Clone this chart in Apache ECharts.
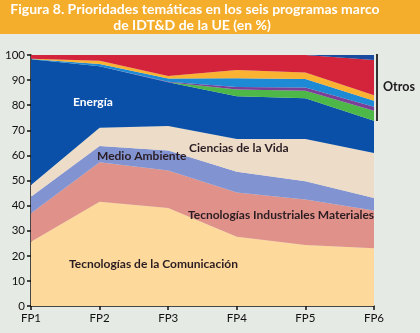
<!DOCTYPE html>
<html>
<head>
<meta charset="utf-8">
<script src="https://cdn.jsdelivr.net/npm/echarts@6/dist/echarts.min.js"></script>
<style>html,body{margin:0;padding:0;background:#e6eae5;}#c{width:420px;height:333px;}</style>
</head>
<body>
<div id="c"></div>
<script>
const categories = ['FP1','FP2','FP3','FP4','FP5','FP6'];
const comunicacion = [25.6, 41.5, 39, 27.6, 24.3, 23];
const industriales = [11.4, 15.8, 15, 17.6, 18.1, 15];
const medioAmbiente = [6.5, 6.4, 8, 8.3, 7.3, 5];
const cienciasVida = [4.7, 7.3, 9.7, 13, 16.8, 18];
const energia = [50.1, 24.5, 17.4, 17.1, 16.3, 12.8];
const otrosVerde = [0, 0, 0, 2.7, 3.0, 4.0];
const otrosMorado = [0, 0, 0.2, 1.0, 1.3, 1.6];
const otrosCeleste = [0.1, 0.9, 1.3, 3.4, 3.3, 2.4];
const otrosNaranja = [0.1, 1.3, 1.0, 3.3, 2.6, 2.2];
const otrosRojo = [1.5, 2.3, 8.4, 6, 7, 14];
const otrosAzul = [0, 0, 0, 0, 0, 2];
const yTicks = [0,10,20,30,40,50,60,70,80,90,100];

const layers = [
  [comunicacion, '#fdd99b'],
  [industriales, '#e0928a'],
  [medioAmbiente, '#8293d2'],
  [cienciasVida, '#ecdcc8'],
  [energia, '#0a50a8'],
  [otrosVerde, '#4db848'],
  [otrosMorado, '#7c3f98'],
  [otrosCeleste, '#1e8ad6'],
  [otrosNaranja, '#f9b232'],
  [otrosRojo, '#d4243c'],
  [otrosAzul, '#1a4b9f']
];

const chart = echarts.init(document.getElementById('c'));
const font = 'Lato, "Open Sans", sans-serif';
const dark = '#2a1c22';
chart.setOption({
  backgroundColor: '#e6eae5',
  animation: false,
  grid: {left: 31, right: 46, top: 55, bottom: 27},
  xAxis: {
    type: 'category', data: categories, boundaryGap: false,
    axisLine: {lineStyle: {color: '#111', width: 1.5}},
    axisTick: {show: true, alignWithLabel: true, length: 4, lineStyle: {color: '#111', width: 1.5}},
    axisLabel: {color: '#111', fontFamily: font, fontSize: 11.5, margin: 6}
  },
  yAxis: {
    type: 'value', min: 0, max: 100, interval: 10,
    axisLine: {show: true, lineStyle: {color: '#111', width: 1.5}},
    axisTick: {show: true, length: 4, lineStyle: {color: '#111', width: 1.5}},
    axisLabel: {color: '#111', fontFamily: font, fontSize: 11.5, margin: 6,
      formatter: v => yTicks.includes(v) ? String(v) : ''},
    splitLine: {show: false}
  },
  series: layers.map(([d, c]) => ({
    type: 'line', stack: 'total', data: d, symbol: 'none', showSymbol: false,
    lineStyle: {width: 0}, areaStyle: {color: c, opacity: 1}, itemStyle: {color: c},
    z: 2
  })),
  graphic: [
    {type: 'rect', shape: {x: 0, y: 0, width: 420, height: 34}, style: {fill: '#f5ad2c'}, z: 10},
    {type: 'text', x: 195, y: 9, z: 11, style: {text: 'Figura 8. Prioridades temáticas en los seis programas marco', fill: '#fff', font: 'bold 14px ' + font, textAlign: 'center', textVerticalAlign: 'middle'}},
    {type: 'text', x: 192, y: 25, z: 11, style: {text: 'de IDT&D de la UE (en %)', fill: '#fff', font: 'bold 14px ' + font, textAlign: 'center', textVerticalAlign: 'middle'}},
    {type: 'text', x: 73, y: 102, z: 11, style: {text: 'Energía', fill: '#fff', font: 'bold 12px ' + font, textVerticalAlign: 'middle'}},
    {type: 'text', x: 97, y: 156, z: 11, style: {text: 'Medio Ambiente', fill: dark, font: 'bold 12px ' + font, textVerticalAlign: 'middle'}},
    {type: 'text', x: 189, y: 148, z: 11, style: {text: 'Ciencias de la Vida', fill: dark, font: 'bold 12px ' + font, textVerticalAlign: 'middle'}},
    {type: 'text', x: 188, y: 215, z: 11, style: {text: 'Tecnologías Industriales Materiales', fill: dark, font: 'bold 12px ' + font, textVerticalAlign: 'middle'}},
    {type: 'text', x: 69, y: 264, z: 11, style: {text: 'Tecnologías de la Comunicación', fill: dark, font: 'bold 12px ' + font, textVerticalAlign: 'middle'}},
    {type: 'line', shape: {x1: 377, y1: 54, x2: 377, y2: 121}, style: {stroke: '#333', lineWidth: 2}, z: 11},
    {type: 'text', x: 383, y: 87, z: 11, style: {text: 'Otros', fill: '#1a1a1a', font: 'bold 12.5px ' + font, textVerticalAlign: 'middle'}}
  ]
});
</script>
</body>
</html>
